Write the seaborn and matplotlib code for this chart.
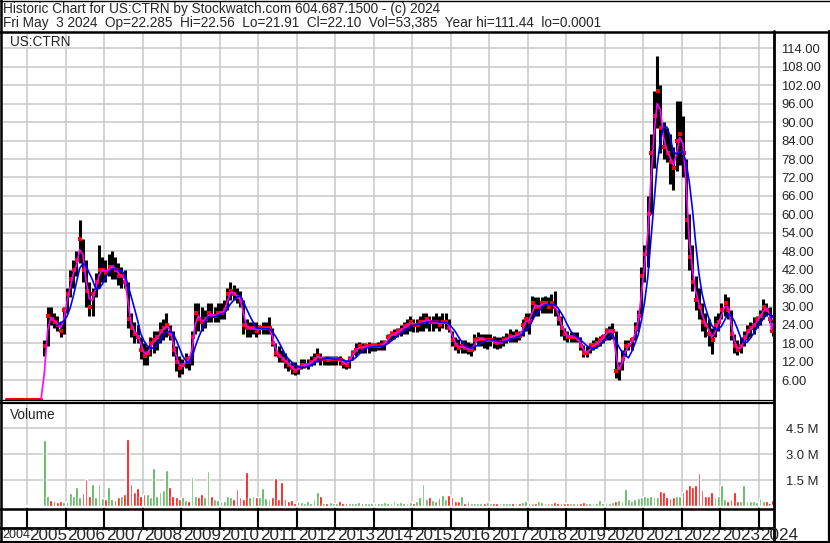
import numpy as np
import pandas as pd
import matplotlib
matplotlib.use("Agg")
import matplotlib.pyplot as plt
from matplotlib.lines import Line2D
import seaborn as sns

sns.set_theme(style="white")
plt.rcParams['font.family'] = ['Liberation Sans', 'DejaVu Sans']

# ---------------- data (monthly) ----------------
first_month = "2005-05"
last_day = "2024-05-02"

high = [19, 30, 30, 28, 27, 25, 30, 36,
        42, 45, 48, 58, 52, 45, 38, 36, 41, 50, 46, 45,
        47, 48, 46, 44, 43, 42, 38, 28, 25, 24, 20, 18,
        17, 20, 22, 22, 25, 26, 28, 24, 22, 17, 14, 13,
        15, 14, 22, 31, 31, 30, 29, 31, 31, 30, 31, 31,
        32, 36, 38, 37, 36, 35, 32, 26, 25, 25, 25, 24,
        25, 25, 26.5, 23, 18, 17, 16, 15, 13, 12, 12, 11,
        13, 13, 13, 14, 15, 16.5, 15, 14, 14, 14, 14, 14,
        14, 13, 12.5, 14, 16, 18, 18.4, 18, 18, 18.4, 18, 18,
        18.4, 19, 19, 21, 22, 22.7, 23, 24, 25, 26, 27, 26,
        26, 27, 28, 28, 27, 27, 28, 27, 28, 28, 26, 22,
        20, 19.5, 19, 19, 18.5, 18, 21, 21.6, 21, 21, 21, 21,
        20.5, 20, 20, 20.5, 21.5, 22.7, 22, 22.7, 22, 26, 28, 28,
        33.5, 33, 33, 33, 33.5, 33, 34, 35, 29, 27, 23, 22,
        21.6, 21.6, 21.6, 20, 17.5, 17, 18, 19, 20, 20.5, 21, 23,
        23.5, 24.5, 22, 12, 15.8, 19, 19, 20, 25, 29, 43, 50,
        66, 86, 100, 111.4, 102, 90, 88, 86, 82, 97, 97, 92,
        78, 60, 50, 40, 36, 31, 28, 26, 23, 27, 28, 31,
        34.2, 33, 29, 21, 19, 20, 22, 24, 25, 26.6, 27, 29,
        32.6, 31, 30, 26, 22.56]

low = [14, 17, 24, 23, 22, 20, 21, 28,
       33, 36, 40, 44, 38, 30, 27, 27, 33, 36, 38, 38,
       40, 39, 39, 37, 36, 36, 23, 20, 18, 18, 13, 11,
       11, 14, 15, 16, 18, 19, 20, 19, 14, 9, 7, 8,
       10, 9.5, 11, 21, 22, 22, 23, 25, 25, 25, 25, 26,
       26, 29, 32, 32, 31, 30, 21, 20, 20, 21, 20, 21,
       21, 21, 21, 17, 14, 12, 12, 10, 9, 8, 7.6, 8,
       9.7, 10, 9.7, 10.5, 11, 12, 11, 11, 11, 11, 11, 11,
       11, 10, 9.7, 10, 12.5, 14, 15, 15, 15, 15, 15.5, 15.5,
       16, 16, 16, 18, 19, 19.5, 20, 20.5, 21, 21, 22, 21.6,
       21.6, 22, 22, 23, 22, 22, 23, 22, 23, 22.7, 21.6, 17,
       16, 15, 15, 15, 14.5, 14, 16, 17, 17, 16.5, 16.2, 17,
       16.5, 16.2, 16.5, 17, 18, 18.4, 18.4, 18.5, 19, 20.5, 22, 21,
       26, 27, 27, 28, 28, 28, 28, 27, 24, 20.5, 19, 18.4,
       18.4, 18.5, 18.4, 16, 13.5, 13.5, 15, 16, 16.5, 17, 18, 19,
       19, 19.5, 6.6, 6, 9.3, 14, 15.8, 16, 19, 22, 27, 38,
       43, 60, 75, 88, 80, 78, 77, 70, 68, 74, 76, 72,
       52, 42, 35, 29, 26, 22, 20, 17, 14.7, 20, 22, 26,
       27, 26, 19, 15, 14.3, 15, 17, 19, 20, 21, 23, 24,
       26, 27, 24.5, 20.5, 21.91]

close = [17, 27, 26, 25, 24, 22, 29, 34,
         39, 42, 45, 52, 42, 35, 30, 34, 38, 42, 42, 41,
         43, 43, 42, 40, 40, 38, 26, 23, 21, 20, 16, 14,
         15, 18, 19, 20, 22, 23, 24, 21, 16, 12, 10, 11,
         13, 12, 20, 28, 26, 25, 26, 28, 27, 27, 28, 28,
         29, 34, 35, 34, 33, 32, 24, 23, 23, 23, 22, 23,
         23, 23, 23, 18, 15, 14, 13, 12, 11, 10, 9, 10,
         11, 11, 11, 12, 13, 14, 13, 13, 12.5, 13, 13, 13,
         12.5, 11.5, 11, 13, 15, 16, 17, 16.5, 17, 17, 17, 17,
         17, 17.5, 18, 20, 21, 21, 22, 22.5, 23.5, 24, 25, 24,
         24, 25, 25, 26, 25, 25, 25, 24, 25, 25, 23, 19,
         17.5, 16.5, 17, 16.5, 16, 16, 19, 19.5, 19.5, 19, 19, 19,
         18.5, 18, 18.5, 19, 19.5, 20.5, 20, 21, 20.5, 24, 26, 25,
         31, 30, 30, 31, 31, 30, 31, 30, 26, 23, 21, 20,
         20, 20, 19.5, 17, 15, 15, 17, 17.5, 18, 19, 20, 22,
         22, 22, 9, 10, 13, 17, 17.5, 19, 23, 27, 40, 47,
         60, 80, 92, 100, 88, 82, 80, 77, 75, 84, 86, 80,
         58, 46, 38, 32, 30, 25, 24, 21, 19, 24, 25, 29,
         31, 29, 21, 17, 16, 17, 20, 22, 23, 24, 26, 27,
         30, 29, 26, 23, 22.10]

volume_m = [3.8, 0.6, 0.35, 0.3, 0.25, 0.3, 0.25, 0.3,
            0.75, 0.6, 1.1, 0.5, 0.75, 1.56, 0.6, 1.27, 0.5, 1.27, 0.45, 0.4,
            1.1, 0.4, 0.35, 0.5, 0.6, 0.7, 3.87, 1.27, 0.8, 1.05, 0.6, 0.7,
            0.7, 0.5, 2.17, 0.6, 0.8, 0.9, 2.08, 1.1, 0.6, 0.5, 0.4, 0.5,
            0.35, 0.3, 1.7, 0.6, 0.5, 0.7, 0.5, 2.0, 0.6, 0.4, 0.35, 0.3,
            0.3, 0.6, 0.5, 0.4, 1.0, 0.5, 0.4, 1.98, 0.5, 0.6, 0.5, 0.5,
            1.06, 0.45, 0.4, 0.5, 1.63, 0.4, 1.4, 0.4, 0.3, 0.35, 0.2, 0.3,
            0.25, 0.2, 0.3, 0.2, 0.4, 0.81, 0.6, 0.2, 0.15, 0.25, 0.15, 0.2,
            0.3, 0.15, 0.2, 0.15, 0.2, 0.15, 0.25, 0.2, 0.2, 0.15, 0.2, 0.15,
            0.2, 0.15, 0.25, 0.2, 0.15, 0.3, 0.2, 0.25, 0.15, 0.2, 0.25, 0.2,
            0.3, 0.5, 1.25, 0.4, 0.5, 0.35, 0.3, 0.45, 0.62, 0.4, 0.62, 0.5,
            0.3, 0.3, 0.6, 0.2, 0.25, 0.15, 0.2, 0.2, 0.15, 0.2, 0.25, 0.2,
            0.2, 0.15, 0.2, 0.15, 0.2, 0.2, 0.15, 0.2, 0.15, 0.25, 0.3, 0.2,
            0.2, 0.15, 0.3, 0.25, 0.2, 0.15, 0.2, 0.25, 0.2, 0.15, 0.2, 0.15,
            0.15, 0.2, 0.15, 0.2, 0.25, 0.15, 0.2, 0.15, 0.2, 0.35, 0.2, 0.25,
            0.2, 0.25, 0.3, 0.35, 0.3, 0.96, 0.4, 0.3, 0.4, 0.45, 0.5, 0.6,
            0.5, 0.6, 0.5, 0.5, 0.87, 0.8, 0.5, 0.45, 0.5, 0.6, 0.6, 0.82,
            1.0, 1.2, 1.08, 1.2, 1.88, 0.9, 0.6, 0.6, 0.78, 0.5, 0.6, 1.2,
            0.4, 0.3, 0.4, 0.78, 0.3, 0.3, 1.2, 0.3, 0.3, 0.3, 0.25, 0.47,
            0.3, 0.3, 0.2, 0.35, 0.05]

pre_first_month = "2004-05"
pre_close = [0.0001, 0.0001, 0.0001, 0.0001, 0.0001, 0.0001,
             0.0001, 0.0001, 0.0001, 0.0001, 0.0001, 0.0001]

price_ticks = [6, 12, 18, 24, 30, 36, 42, 48, 54, 60, 66, 72, 78, 84, 90,
               96, 102, 108, 114]
vol_ticks = [1.5, 3.0, 4.5]
vol_tick_labels = ["1.5 M", "3.0 M", "4.5 M"]
years = list(range(2004, 2025))

title1 = "Historic Chart for US:CTRN by Stockwatch.com 604.687.1500 - (c) 2024"
title2 = ("Fri May  3 2024  Op=22.285  Hi=22.56  Lo=21.91  Cl=22.10  "
          "Vol=53,385  Year hi=111.44  lo=0.0001")

# ---------------- frames ----------------
def dec_year(ts):
    return ts.year + (ts.dayofyear - 1) / 365.25

n = len(close)
dates = list(pd.date_range(first_month + "-15", periods=n - 1, freq="MS") + pd.Timedelta(days=14))
dates.append(pd.Timestamp(last_day))
df = pd.DataFrame({"date": dates, "high": high, "low": low, "close": close,
                   "volume": volume_m})
df["t"] = [dec_year(d) for d in df["date"]]
df["dir"] = np.where(df["close"].diff().fillna(1) >= 0, "up", "down")

pre_dates = pd.date_range(pre_first_month + "-15", periods=len(pre_close), freq="MS") + pd.Timedelta(days=14)
pre = pd.DataFrame({"t": [dec_year(d) for d in pre_dates], "close": pre_close})

full = pd.concat([pre[["t", "close"]], df[["t", "close"]]], ignore_index=True)
full["ma_short"] = full["close"].rolling(2, min_periods=1).mean()
ma_short = full.iloc[len(pre) - 1:].copy()
df["ma_long"] = df["close"].rolling(5).mean()

# ---------------- figure ----------------
W, H = 830, 543
fig = plt.figure(figsize=(W / 100, H / 100), dpi=100)
fig.patch.set_facecolor("white")

def fx(px):
    return px / W

def fy(py):
    return 1 - py / H

X0, X1 = 3, 773
T0 = 2005 - (27 - X0) / 38.5
T1 = 2005 + (X1 - 27) / 38.5

grid_c = "#c8c8c8"
FS = 9.8

ax_p = fig.add_axes([fx(X0), fy(400), fx(X1) - fx(X0), fy(32) - fy(400)])
ax_v = fig.add_axes([fx(X0), fy(508), fx(X1) - fx(X0), fy(403) - fy(508)])

for ax in (ax_p, ax_v):
    ax.set_facecolor("white")
    for s in ax.spines.values():
        s.set_visible(False)
    ax.set_xlim(T0, T1)
    for y in years[1:]:
        ax.axvline(y, color=grid_c, lw=1.1, zorder=0)
    ax.set_xticks([])

# price panel
p0 = (398.7 - 400) / 3.073
p1 = (398.7 - 32) / 3.073
ax_p.set_ylim(p0, p1)
for v in price_ticks:
    ax_p.axhline(v, color=grid_c, lw=1.1, zorder=0)

ax_p.plot(pre["t"], pre["close"], color="#ff0000", lw=2.2, zorder=2)
ax_p.vlines(df["t"], df["low"], df["high"], color="black", lw=2.2, zorder=2)
sns.scatterplot(x=df["t"] + 0.02, y=df["close"], color="#ff0000", s=5,
                marker="s", linewidth=0, ax=ax_p, zorder=3)
sns.lineplot(x=ma_short["t"], y=ma_short["ma_short"], color="#ff00ff", lw=1.2,
             ax=ax_p, zorder=4)
sns.lineplot(x=df["t"], y=df["ma_long"], color="#0000ff", lw=1.2, ax=ax_p,
             zorder=5)
ax_p.yaxis.tick_right()
ax_p.set_yticks(price_ticks)
ax_p.set_yticklabels([f"{v:.2f}" for v in price_ticks], fontsize=9.4)
ax_p.tick_params(axis="y", length=0, pad=6)
ax_p.set_xlabel("")
ax_p.set_ylabel("")
ax_p.text(0.009, 0.972, "US:CTRN", transform=ax_p.transAxes,
          fontsize=FS, va="center", ha="left")

# volume panel
v0 = -(508 - 506) / 17.33
v1 = (506 - 403) / 17.33
ax_v.set_ylim(v0, v1)
for v in vol_ticks:
    ax_v.axhline(v, color=grid_c, lw=1.1, zorder=0)
ax_v.bar(pre["t"], [0.03] * len(pre), width=0.075, color="#a0a0a0", zorder=2)
colors = df["dir"].map({"up": "#4caf50", "down": "#ff0000"})
ax_v.bar(df["t"], df["volume"], width=0.072, color=colors, zorder=2)
ax_v.yaxis.tick_right()
ax_v.set_yticks(vol_ticks)
ax_v.set_yticklabels(vol_tick_labels, fontsize=9.4)
ax_v.tick_params(axis="y", length=0, pad=9)
ax_v.set_xlabel("")
ax_v.set_ylabel("")
ax_v.text(0.009, 0.885, "Volume", transform=ax_v.transAxes, fontsize=FS,
          va="center", ha="left")

# titles
fig.text(fx(3), fy(8.5), title1, fontsize=FS, va="center", ha="left")
fig.text(fx(3), fy(22.5), title2, fontsize=FS, va="center", ha="left")

# year labels and tick row
def year_x(y):
    return 27 + (y - 2005) * 38.5

for y in years:
    xp = year_x(y)
    if y >= 2005:
        fig.add_artist(Line2D([fx(xp), fx(xp)], [fy(509), fy(527)],
                              color="black", lw=1.5))
        fig.text(fx(xp + 2), fy(535.5), str(y), fontsize=12.3,
                 va="center", ha="left")
    else:
        fig.text(fx(2.5), fy(535.5), str(y), fontsize=9.0,
                 va="center", ha="left")

# frame lines
def hline(py, x_from, x_to, lw):
    fig.add_artist(Line2D([fx(x_from), fx(x_to)], [fy(py), fy(py)],
                          color="black", lw=lw))

def vline(px, y_from, y_to, lw):
    fig.add_artist(Line2D([fx(px), fx(px)], [fy(y_from), fy(y_to)],
                          color="black", lw=lw))

hline(0.5, 0, W, 1.0)
hline(31.5, 0, W, 1.8)
hline(400.3, 0, 773, 0.9)
hline(402.5, 0, 773, 1.6)
hline(508.8, 0, 773, 1.8)
hline(527.8, 0, 773, 2.0)
hline(542.3, 0, W, 1.5)
vline(1.0, 0, H, 1.8)
vline(773.8, 31, H, 2.0)
vline(828.5, 31, H, 1.6)

fig.savefig("out.png", dpi=100, facecolor="white")
